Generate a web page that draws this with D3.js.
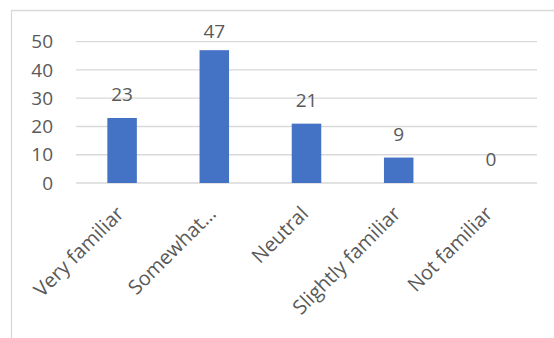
<!DOCTYPE html>
<html>
<head>
<meta charset="utf-8">
<script src="https://cdn.jsdelivr.net/npm/d3@7"></script>
<style>
  html, body { margin: 0; padding: 0; background: #fff; }
  svg { display: block; }
  text { font-family: "Open Sans", "Noto Sans", sans-serif; fill: #595959; }
</style>
</head>
<body>
<svg id="chart" width="554" height="338"></svg>
<script>
// Survey responses: familiarity level
const categories = ["Very familiar", "Somewhat…", "Neutral", "Slightly familiar", "Not familiar"];
const counts = [23, 47, 21, 9, 0];
const yTicks = [0, 10, 20, 30, 40, 50];

const W = 554, H = 338;
const plot = { left: 76, right: 537, top: 41.7, bottom: 183 };

const svg = d3.select("#chart");

// chart frame (cut off at the right and bottom edges)
svg.append("path")
  .attr("d", `M11.5,${H} V10.5 H${W}`)
  .attr("fill", "none")
  .attr("stroke", "#d9d9d9")
  .attr("stroke-width", 1.3);

const x = d3.scaleBand()
  .domain(categories)
  .range([plot.left, plot.right])
  .paddingInner(0.68)
  .paddingOuter(0.34);

const y = d3.scaleLinear()
  .domain([0, 50])
  .range([plot.bottom, plot.top]);

// horizontal gridlines
svg.append("g")
  .selectAll("line")
  .data(yTicks)
  .join("line")
  .attr("x1", plot.left)
  .attr("x2", plot.right)
  .attr("y1", d => y(d))
  .attr("y2", d => y(d))
  .attr("stroke", "#d9d9d9")
  .attr("stroke-width", 1.3);

// y axis labels
const yAxis = d3.axisLeft(y).tickValues(yTicks).tickSize(0).tickPadding(0);
const gy = svg.append("g")
  .attr("transform", `translate(53,0)`)
  .call(yAxis);
gy.select(".domain").remove();
gy.selectAll("text")
  .attr("font-size", 19)
  .attr("font-family", "'Open Sans', 'Noto Sans', sans-serif")
  .attr("fill", "#595959");

// bars
svg.append("g")
  .selectAll("rect")
  .data(counts)
  .join("rect")
  .attr("x", (d, i) => x(categories[i]))
  .attr("width", x.bandwidth())
  .attr("y", d => y(d))
  .attr("height", d => y(0) - y(d))
  .attr("fill", "#4472c4");

// value labels above bars, kept inside the plot area
const labelTop = y(50) - 4;
svg.append("g")
  .selectAll("text")
  .data(counts)
  .join("text")
  .attr("x", (d, i) => x(categories[i]) + x.bandwidth() / 2)
  .attr("y", d => Math.max(y(d) - 17, labelTop))
  .attr("text-anchor", "middle")
  .attr("font-size", 19)
  .text(d => d);

// rotated category labels
const xAxis = d3.axisBottom(x).tickSize(0).tickPadding(0);
const gx = svg.append("g")
  .attr("transform", `translate(0,${plot.bottom})`)
  .call(xAxis);
gx.select(".domain").remove();
gx.selectAll(".tick text")
  .attr("font-size", 20)
  .attr("font-family", "'Open Sans', 'Noto Sans', sans-serif")
  .attr("fill", "#595959")
  .attr("text-anchor", "end")
  .attr("dy", 0)
  .attr("y", 0)
  .attr("transform", "translate(3,32) rotate(-45)");
</script>
</body>
</html>
